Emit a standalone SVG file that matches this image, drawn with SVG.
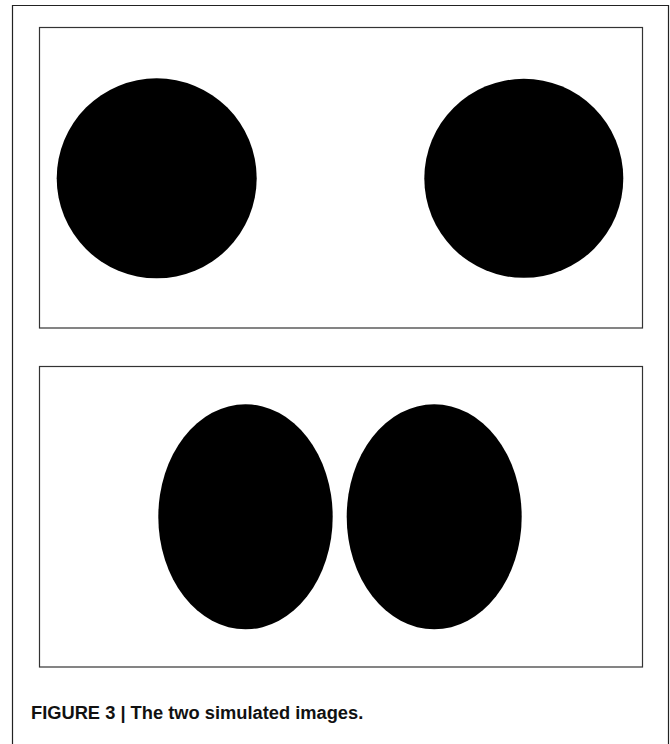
<svg xmlns="http://www.w3.org/2000/svg" width="670" height="744" viewBox="0 0 670 744">
<style>
.frame{fill:none;stroke:#222;stroke-width:1.2}
.panel{fill:#fff;stroke:#333;stroke-width:1.2}
.blob{fill:#000;filter:url(#soft)}
.cap{font-family:"Liberation Sans",Arial,sans-serif;font-weight:bold;font-size:18.3px;fill:#111}
</style>
<defs>
<filter id="soft" x="-5%" y="-5%" width="110%" height="110%"><feGaussianBlur stdDeviation="0.6"/></filter>
</defs>
<rect width="670" height="744" fill="#fff"/>
<path class="frame" d="M12.5,744 V5.5 H668.5 V744"/>
<g id="panel1">
<rect class="panel" x="39.5" y="27.5" width="603" height="300.5"/>
<circle id="circle-left" class="blob" cx="156.7" cy="178.3" r="100"/>
<circle id="circle-right" class="blob" cx="523.8" cy="178.3" r="99.5"/>
</g>
<g id="panel2">
<rect class="panel" x="39.5" y="366.5" width="603" height="300.5"/>
<ellipse id="ellipse-left" class="blob" cx="245.5" cy="516.8" rx="87.2" ry="112.5"/>
<ellipse id="ellipse-right" class="blob" cx="434.2" cy="516.8" rx="87.5" ry="112.5"/>
</g>
<g id="connectors"/>
<text class="cap" x="31" y="718.5">FIGURE 3 | The two simulated images.</text>
</svg>
